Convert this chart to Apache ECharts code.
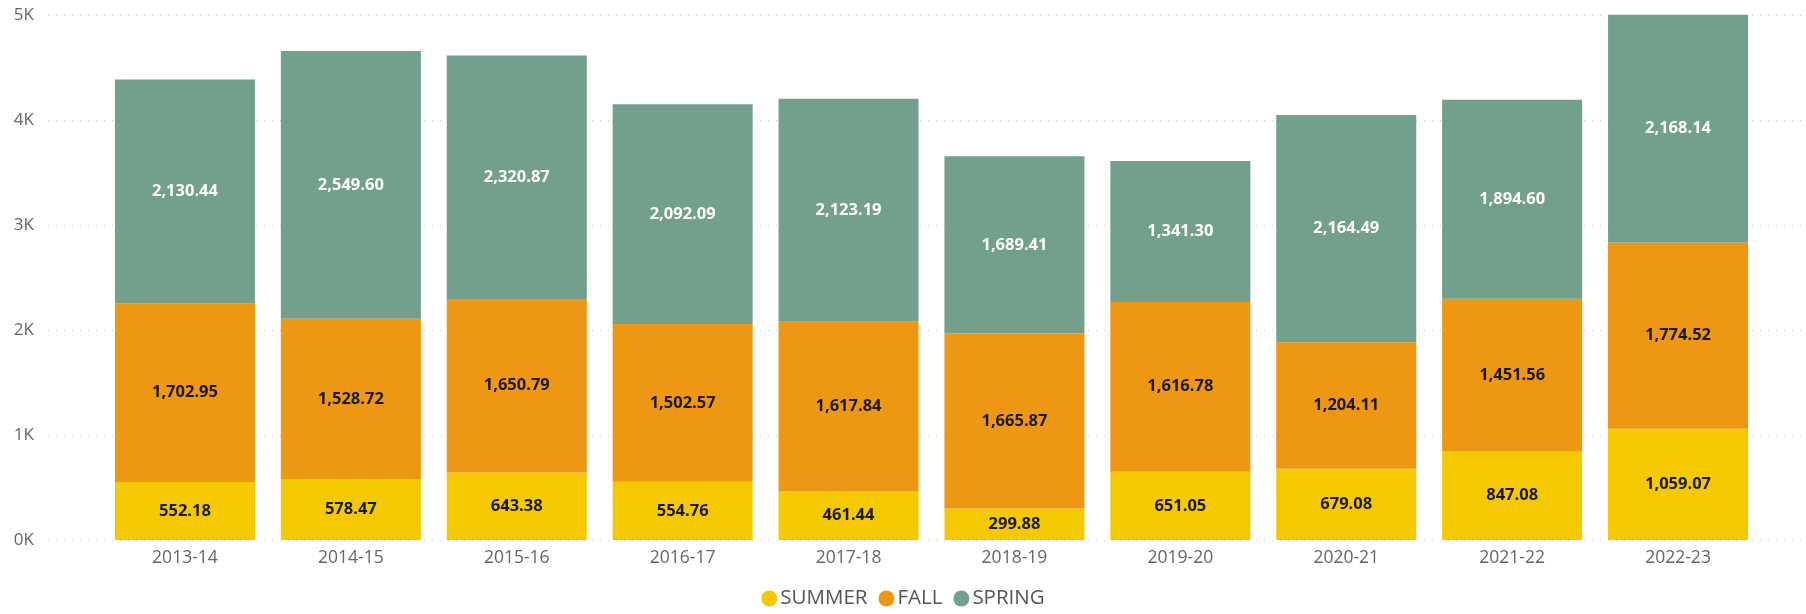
<!DOCTYPE html>
<html>
<head>
<meta charset="utf-8">
<script src="https://cdn.jsdelivr.net/npm/echarts@6/dist/echarts.min.js"></script>
<style>
  html, body { margin: 0; padding: 0; background: #fff; }
  #chart { width: 1806px; height: 614px; }
</style>
</head>
<body>
<div id="chart"></div>
<script>
// term totals per academic year
const years = ['2013-14', '2014-15', '2015-16', '2016-17', '2017-18', '2018-19', '2019-20', '2020-21', '2021-22', '2022-23'];
const summer = [552.18, 578.47, 643.38, 554.76, 461.44, 299.88, 651.05, 679.08, 847.08, 1059.07];
const fall = [1702.95, 1528.72, 1650.79, 1502.57, 1617.84, 1665.87, 1616.78, 1204.11, 1451.56, 1774.52];
const spring = [2130.44, 2549.60, 2320.87, 2092.09, 2123.19, 1689.41, 1341.30, 2164.49, 1894.60, 2168.14];

const FONT = '"Open Sans", "Noto Sans", sans-serif';
const MUTED = '#666666';
const GRIDC = '#c8c8c8';

const fmt = (v) => v.toLocaleString('en-US', { minimumFractionDigits: 2, maximumFractionDigits: 2 });

const chart = echarts.init(document.getElementById('chart'));

// grid 0 only carries the y labels and dotted gridlines (they run wider than the bars),
// grid 1 holds the category axis and the stacked bars
const yBase = { type: 'value', min: 0, max: 5000, interval: 1000 };

function barSeries(name, data, color, labelColor) {
  return {
    name, type: 'bar', stack: 'total', data,
    xAxisIndex: 1, yAxisIndex: 1,
    barCategoryGap: '15.6%',
    clip: false,
    itemStyle: { color },
    emphasis: { disabled: true },
    label: {
      show: true, position: 'inside', color: labelColor,
      fontFamily: FONT, fontWeight: 'bold', fontSize: 16.5,
      formatter: (p) => fmt(p.value),
    },
  };
}

chart.setOption({
  animation: false,
  grid: [
    { left: 48, right: 0, top: 15, bottom: 74 },
    { left: 102, right: 45, top: 15, bottom: 74 },
  ],
  legend: {
    bottom: 0, left: 'center',
    icon: 'circle', itemWidth: 16, itemHeight: 16, itemGap: 11,
    textStyle: { color: '#555555', fontFamily: FONT, fontSize: 20.5, padding: [0, 0, 0, -2] },
    data: ['SUMMER', 'FALL', 'SPRING'],
  },
  xAxis: [
    { type: 'value', gridIndex: 0, show: false, min: 0, max: 1 },
    {
      type: 'category', gridIndex: 1, data: years,
      axisLine: { show: false }, axisTick: { show: false },
      axisLabel: { color: MUTED, fontFamily: FONT, fontSize: 17.5, margin: 9 },
    },
  ],
  yAxis: [
    {
      ...yBase, gridIndex: 0,
      axisLine: { show: false }, axisTick: { show: false },
      axisLabel: { color: MUTED, fontFamily: FONT, fontSize: 17, margin: 14, formatter: (v) => `${v / 1000}K` },
      splitLine: { lineStyle: { color: GRIDC, type: [1, 7], width: 1 } },
    },
    { ...yBase, gridIndex: 1, show: false, splitLine: { show: false } },
  ],
  series: [
    barSeries('SUMMER', summer, '#F5C900', '#1a1a1a'),
    barSeries('FALL', fall, '#EE9712', '#1a1a1a'),
    barSeries('SPRING', spring, '#72A08C', '#ffffff'),
  ],
});
</script>
</body>
</html>
